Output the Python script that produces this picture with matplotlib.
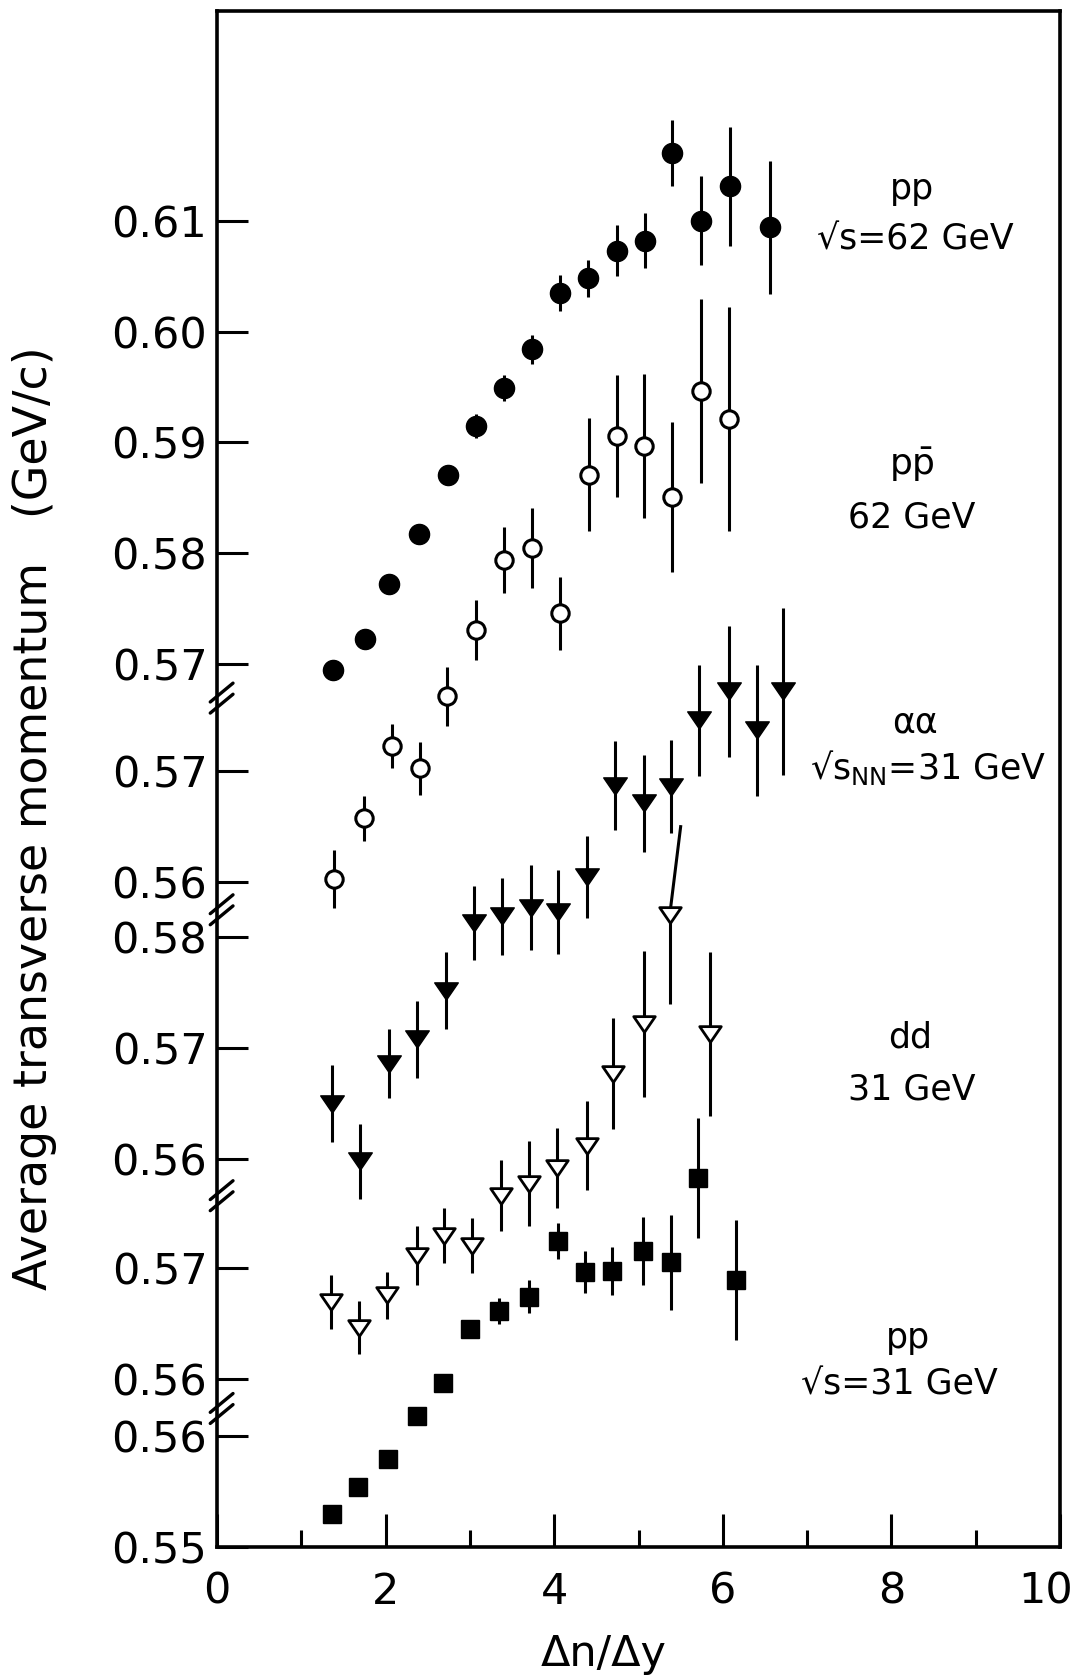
import numpy as np
import matplotlib
matplotlib.use('Agg')
import matplotlib.pyplot as plt
from matplotlib.path import Path
from matplotlib.transforms import ScaledTranslation

# <pT> versus dn/dy, five data sets on stacked (broken) y scales
# pp, sqrt(s)=62 GeV (filled circles)
pp62_x = [1.38, 1.75, 2.04, 2.40, 2.74, 3.07, 3.40, 3.74, 4.07, 4.40, 4.74, 5.08, 5.40, 5.74, 6.08, 6.56]
pp62_y = [0.5695, 0.5723, 0.5772, 0.5817, 0.5871, 0.5915, 0.5949, 0.5984, 0.6035, 0.6048, 0.6073, 0.6082,
          0.6161, 0.6100, 0.6131, 0.6094]
pp62_err = [0, 0, 0, 0, 0, 0.0011, 0.0012, 0.0013, 0.0016, 0.0017, 0.0023, 0.0025, 0.0030, 0.0040, 0.0054, 0.0060]

# p pbar, 62 GeV (open circles)
ppbar_x = [1.39, 1.74, 2.07, 2.41, 2.73, 3.07, 3.40, 3.74, 4.07, 4.41, 4.74, 5.07, 5.40, 5.74, 6.07]
ppbar_y = [0.5602, 0.5657, 0.5722, 0.5702, 0.5767, 0.5827, 0.5890, 0.5901, 0.5842, 0.5967, 0.6002, 0.5993,
           0.5947, 0.6043, 0.6017]
ppbar_err = [0.0026, 0.0020, 0.0020, 0.0024, 0.0027, 0.0027, 0.0030, 0.0036, 0.0033, 0.0051, 0.0055, 0.0065,
             0.0068, 0.0083, 0.0101]

# alpha alpha, sqrt(s_NN)=31 GeV (filled triangles)
aa_x = [1.37, 1.70, 2.04, 2.37, 2.72, 3.05, 3.38, 3.72, 4.05, 4.39, 4.72, 5.06, 5.39, 5.72, 6.07, 6.40, 6.71]
aa_y = [0.5650, 0.5598, 0.5686, 0.5708, 0.5752, 0.5813, 0.5819, 0.5827, 0.5823, 0.5855, 0.5937, 0.5921,
        0.5936, 0.5996, 0.6022, 0.5987, 0.6022]
aa_err = [0.0035, 0.0034, 0.0031, 0.0035, 0.0035, 0.0033, 0.0035, 0.0038, 0.0038, 0.0037, 0.0040, 0.0044,
          0.0042, 0.0050, 0.0059, 0.0059, 0.0075]

# dd, 31 GeV (open triangles)
dd_x = [1.35, 1.68, 2.02, 2.37, 2.69, 3.02, 3.37, 3.70, 4.03, 4.39, 4.70, 5.06, 5.37, 5.85]
dd_y = [0.5669, 0.5646, 0.5675, 0.5711, 0.5729, 0.5720, 0.5765, 0.5776, 0.5790, 0.5810, 0.5875, 0.5920,
        0.6018, 0.5911]
dd_err = [0.0024, 0.0024, 0.0021, 0.0027, 0.0025, 0.0025, 0.0032, 0.0038, 0.0036, 0.0040, 0.0050, 0.0066,
          0.0080, 0.0074]
dd_slanted = 12  # upper error bar drawn tilted in the original

# pp, sqrt(s)=31 GeV (filled squares)
pp31_x = [1.36, 1.67, 2.03, 2.37, 2.68, 3.00, 3.34, 3.70, 4.05, 4.37, 4.69, 5.05, 5.38, 5.70, 6.16]
pp31_y = [0.5530, 0.5554, 0.5579, 0.5618, 0.5648, 0.5697, 0.5713, 0.5726, 0.5776, 0.5748, 0.5749, 0.5767,
          0.5757, 0.5833, 0.5741]
pp31_err = [0, 0, 0, 0, 0, 0, 0.0012, 0.0015, 0.0016, 0.0019, 0.0022, 0.0031, 0.0043, 0.0054, 0.0054]

# each scale: (reference value, position on the stacked axis, tick labels)
scale_pp62 = (0.57, 7.967, ['0.57', '0.58', '0.59', '0.60', '0.61'])
scale_ppbar = (0.56, 6.005, ['0.56', '0.57'])
scale_aa = (0.57, 4.50, ['0.56', '0.57', '0.58'])
scale_dd = (0.56, 1.52, ['0.56', '0.57'])
scale_pp31 = (0.55, 0.0, ['0.55', '0.56'])
breaks = [7.66, 5.75, 3.17, 1.25]


def to_axis(vals, scale):
    ref, pos, _ = scale
    return (np.asarray(vals, dtype=float) - ref) * 100 + pos


plt.rcParams['font.family'] = 'DejaVu Sans'
fig = plt.figure(figsize=(10.84, 16.77), dpi=100)
ax = fig.add_axes([217 / 1084, 130 / 1677, 843 / 1084, 1536 / 1677])

tri = Path([(-1, 0.73), (1, 0.73), (0, -0.73), (-1, 0.73)], closed=True)
ebkw = dict(ls='none', ecolor='black', elinewidth=2.2, capsize=0)

ax.errorbar(pp62_x, to_axis(pp62_y, scale_pp62), yerr=np.array(pp62_err) * 100, marker='o', ms=14.5,
            mfc='black', mec='black', **ebkw)
ax.errorbar(ppbar_x, to_axis(ppbar_y, scale_ppbar), yerr=np.array(ppbar_err) * 100, marker='o', ms=12.5,
            mfc='white', mec='black', mew=2.2, **ebkw)
ax.errorbar(aa_x, to_axis(aa_y, scale_aa), yerr=np.array(aa_err) * 100, marker=tri, ms=17,
            mfc='black', mec='black', **ebkw)

dd_u = to_axis(dd_y, scale_dd)
dd_lo = np.array(dd_err) * 100
dd_up = dd_lo.copy()
dd_up[dd_slanted] = 0
ax.errorbar(dd_x, dd_u, yerr=[dd_lo, dd_up], marker=tri, ms=15.5, mfc='white', mec='black', mew=2.0, **ebkw)
ax.plot([dd_x[dd_slanted], dd_x[dd_slanted] + 0.13],
        [dd_u[dd_slanted], dd_u[dd_slanted] + dd_lo[dd_slanted]], color='black', lw=2.2, zorder=1.5)

ax.errorbar(pp31_x, to_axis(pp31_y, scale_pp31), yerr=np.array(pp31_err) * 100, marker='s', ms=13.5,
            mfc='black', mec='black', **ebkw)

# axes and ticks
ax.set_xlim(0, 10)
ax.set_ylim(0, 13.86)
ax.set_xticks([0, 2, 4, 6, 8, 10])
ax.set_xticks([1, 3, 5, 7, 9], minor=True)
yt, yl = [], []
for sc in [scale_pp62, scale_ppbar, scale_aa, scale_dd, scale_pp31]:
    for lab in sc[2]:
        yt.append(to_axis([float(lab)], sc)[0])
        yl.append(lab)
ax.set_yticks(yt)
ax.set_yticklabels(yl)
ax.tick_params(axis='both', which='both', direction='in', width=2.2, labelsize=31)
ax.tick_params(axis='x', which='major', length=24, pad=17)
ax.tick_params(axis='x', which='minor', length=12)
ax.tick_params(axis='y', which='major', length=22, pad=7)
ax.tick_params(top=False, right=False)
for sp in ax.spines.values():
    sp.set_linewidth(2.6)

# keep the "10" inside the figure
last = ax.get_xticklabels()[-1]
last.set_transform(last.get_transform() + ScaledTranslation(-14 / 100, 0, fig.dpi_scale_trans))

# break marks on the y axis
for b in breaks:
    for d in (-0.05, 0.05):
        ax.plot([-0.08, 0.19], [b + d - 0.085, b + d + 0.085], color='black', lw=2.4,
                clip_on=False, solid_capstyle='round')

ax.set_xlabel('Δn/Δy', fontsize=31)
ax.xaxis.set_label_coords(0.459, -0.056)
fig.text(35 / 1084, 1 - 818 / 1677, 'Average transverse momentum   (GeV/c)', rotation=90,
         fontsize=33, ha='center', va='center')

# data set labels
lab_kw = dict(fontsize=25, ha='center', va='center')
ax.text(8.24, 12.25, 'pp', **lab_kw)
ax.text(8.28, 11.80, '√s=62 GeV', **lab_kw)
ax.text(8.24, 9.76, r'p$\mathregular{\bar{p}}$', fontsize=26, ha='center', va='center')
ax.text(8.24, 9.29, '62 GeV', **lab_kw)
ax.text(8.28, 7.44, 'αα', **lab_kw)
ax.text(8.43, 7.03, r'√s$_{\mathregular{NN}}$=31 GeV', **lab_kw)
ax.text(8.22, 4.60, 'dd', **lab_kw)
ax.text(8.24, 4.13, '31 GeV', **lab_kw)
ax.text(8.20, 1.89, 'pp', **lab_kw)
ax.text(8.10, 1.47, '√s=31 GeV', **lab_kw)

fig.savefig('out.png', dpi=100)
